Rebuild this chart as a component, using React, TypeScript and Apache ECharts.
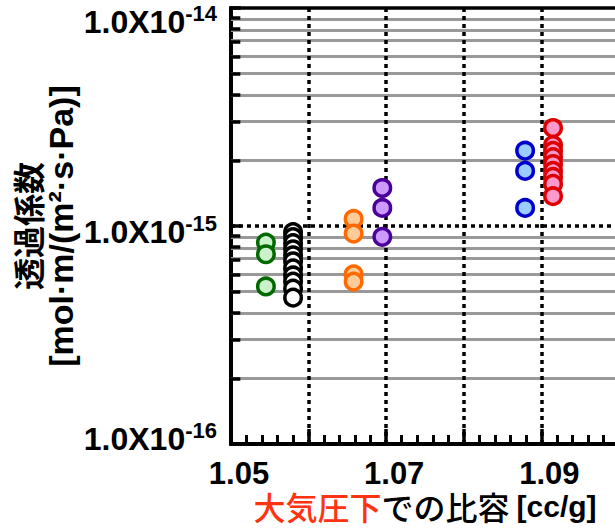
import React, { useEffect, useRef } from 'react';
import * as echarts from 'echarts';

// ---- axis ticks / labels ----
const xTickLabels = ['1.05', '1.07', '1.09'];
const xDottedLines = [1.06, 1.07, 1.08, 1.09];
const yTickMantissa = '1.0X10';
const yTickExponents = ['-16', '-15', '-14'];
const yDottedLines = [1e-15];
const yMinorMantissas = [2, 3, 4, 5, 6, 7, 8, 9];
const yMinorDecades = [1e-16, 1e-15];

// ---- data (specific volume [cc/g], permeability [mol·m/(m²·s·Pa)]) ----
const greenX = 1.0545;
const greenY = [0.839e-15, 0.742e-15, 0.528e-15];
const blackX = 1.058;
const blackY = [0.938e-15, 0.889e-15, 0.834e-15, 0.782e-15, 0.734e-15, 0.689e-15, 0.639e-15, 0.593e-15, 0.556e-15, 0.516e-15, 0.469e-15];
const orangeX = 1.0658;
const orangeY = [1.077e-15, 0.923e-15, 0.6e-15, 0.556e-15];
const purpleX = 1.0695;
const purpleY = [1.494e-15, 1.21e-15, 0.892e-15];
const blueX = 1.0879;
const blueY = [2.215e-15, 1.79e-15, 1.21e-15];
const redX = 1.0915;
const redY = [2.815e-15, 2.35e-15, 2.21e-15, 2.07e-15, 1.925e-15, 1.79e-15, 1.68e-15, 1.56e-15, 1.37e-15];

const FONT = "'Liberation Sans', Arial, 'Noto Sans CJK JP', sans-serif";
const CJK = "'Noto Sans CJK JP', 'Liberation Sans', sans-serif";

const groups = [
  { name: 'green', x: greenX, y: greenY, border: '#006a00', fill: '#ccf2cc' },
  { name: 'black', x: blackX, y: blackY, border: '#000000', fill: '#ffffff' },
  { name: 'orange', x: orangeX, y: orangeY, border: '#ff6a00', fill: '#ffcc99' },
  { name: 'purple', x: purpleX, y: purpleY, border: '#4a0099', fill: '#cc99ff' },
  { name: 'blue', x: blueX, y: blueY, border: '#0000cc', fill: '#99ccff' },
  { name: 'red', x: redX, y: redY, border: '#dd0000', fill: '#ff99cc' },
];

// the y axis is a log10 axis: values are passed through log10 onto a linear scale
const lg = (v: number) => Math.log10(v);

function buildOption() {
  const gray = { color: '#999999', width: 3, type: 'solid' as const };
  const dotted = { color: '#000000', width: 3.5, type: [4, 4] as any };
  const tickStyle = { color: '#000000', width: 3.5, type: 'solid' as const };
  const minorVals: number[] = [];
  yMinorDecades.forEach((d) => yMinorMantissas.forEach((m) => minorVals.push(m * d)));
  const tickLen = 0.0012;

  const markData: any[] = [];
  minorVals.forEach((v) => markData.push({ yAxis: lg(v), lineStyle: gray }));
  xDottedLines.forEach((v) => markData.push({ xAxis: v, lineStyle: dotted }));
  yDottedLines.forEach((v) => markData.push({ yAxis: lg(v), lineStyle: dotted }));
  minorVals.forEach((v) =>
    markData.push([
      { coord: [1.05, lg(v)], lineStyle: tickStyle },
      { coord: [1.05 + tickLen, lg(v)] },
    ])
  );

  const series: any[] = [
    {
      type: 'line',
      data: [],
      silent: true,
      markLine: {
        silent: true,
        symbol: ['none', 'none'],
        label: { show: false },
        emphasis: { disabled: true },
        data: markData,
      },
    },
  ];
  groups.forEach((g) =>
    series.push({
      name: g.name,
      type: 'scatter',
      z: 10,
      symbol: 'circle',
      symbolSize: 16.5,
      itemStyle: { color: g.fill, borderColor: g.border, borderWidth: 3.5, opacity: 1 },
      data: g.y.map((v) => [g.x, lg(v)]),
    })
  );

  const spacer = (h: number) => ({ fontSize: 1, lineHeight: h, color: 'transparent' });

  return {
    animation: false,
    backgroundColor: '#ffffff',
    grid: {
      left: 231, right: -4, top: 8, bottom: 84,
      show: true, borderColor: '#000', borderWidth: 3.5, backgroundColor: 'transparent',
      containLabel: false,
      outerBoundsMode: 'none',
    },
    xAxis: {
      type: 'value',
      min: 1.05,
      max: 1.1,
      interval: 0.01,
      axisLine: { show: true, lineStyle: { color: '#000', width: 4 } },
      axisTick: { show: true, inside: true, length: 15, lineStyle: { color: '#000', width: 3.5 } },
      minorTick: { show: true, splitNumber: 5, length: 9, lineStyle: { color: '#000', width: 3 } },
      splitLine: { show: false },
      axisLabel: {
        margin: 14,
        fontSize: 31,
        lineHeight: 30,
        fontWeight: 'bold',
        fontFamily: FONT,
        color: '#000',
        padding: [0, 0, 0, 16],
        formatter: (v: number) => {
          const s = v.toFixed(2);
          return xTickLabels.includes(s) ? s : '';
        },
      },
      name: '{r|大気圧下}{k|での比容 }{e|[cc/g]}',
      nameLocation: 'middle',
      nameGap: 47,
      nameMoveOverlap: false,
      nameTextStyle: {
        rich: {
          r: { fontSize: 32, fontWeight: 500, fontFamily: CJK, color: '#ff3311', lineHeight: 30 },
          k: { fontSize: 32, fontWeight: 500, fontFamily: CJK, color: '#000', lineHeight: 30 },
          e: { fontSize: 30, fontFamily: FONT, fontWeight: 'bold', color: '#000', lineHeight: 30 },
        },
      },
    },
    yAxis: {
      type: 'value',
      min: -16,
      max: -14,
      interval: 1,
      axisLine: { show: true, lineStyle: { color: '#000', width: 4 } },
      axisTick: { show: true, inside: true, length: 10, lineStyle: { color: '#000', width: 3.5 } },
      minorTick: { show: false },
      splitLine: { show: false },
      axisLabel: {
        margin: 14,
        formatter: (v: number) => {
          const e = String(Math.round(v));
          const i = yTickExponents.indexOf(e);
          if (i < 0) return '';
          const main = `{a|${yTickMantissa}}{b|${yTickExponents[i]}}`;
          if (i === 0) return `${main}\n{s0| }`;
          if (i === 1) return `{s1| }\n${main}`;
          return `{s2| }\n${main}`;
        },
        rich: {
          a: { fontSize: 32, fontWeight: 'bold', fontFamily: FONT, color: '#000', lineHeight: 32, verticalAlign: 'bottom' },
          b: { fontSize: 22, fontWeight: 'bold', fontFamily: FONT, color: '#000', lineHeight: 22, verticalAlign: 'bottom', padding: [0, 0, 13, 0] },
          s0: spacer(11),
          s1: spacer(11),
          s2: spacer(27),
        },
      },
      name: '{t|透過係数}\n{u|[mol·m/(m²·s·Pa)]}',
      nameLocation: 'middle',
      nameRotate: 90,
      nameGap: 151,
      nameMoveOverlap: false,
      nameTextStyle: {
        rich: {
          t: { fontSize: 32, fontWeight: 'bold', fontFamily: CJK, color: '#000', lineHeight: 29 },
          u: { fontSize: 34, fontWeight: 'bold', fontFamily: FONT, color: '#000', lineHeight: 39 },
        },
      },
    },
    series,
  };
}

export default function App() {
  const ref = useRef<HTMLDivElement>(null);
  useEffect(() => {
    if (!ref.current) return;
    const chart = echarts.init(ref.current, null, { renderer: 'svg' });
    chart.setOption(buildOption() as any);
    return () => chart.dispose();
  }, []);
  return (
    <div
      ref={ref}
      style={{ position: 'absolute', left: 0, top: 0, width: 615, height: 528, background: '#fff' }}
    />
  );
}
